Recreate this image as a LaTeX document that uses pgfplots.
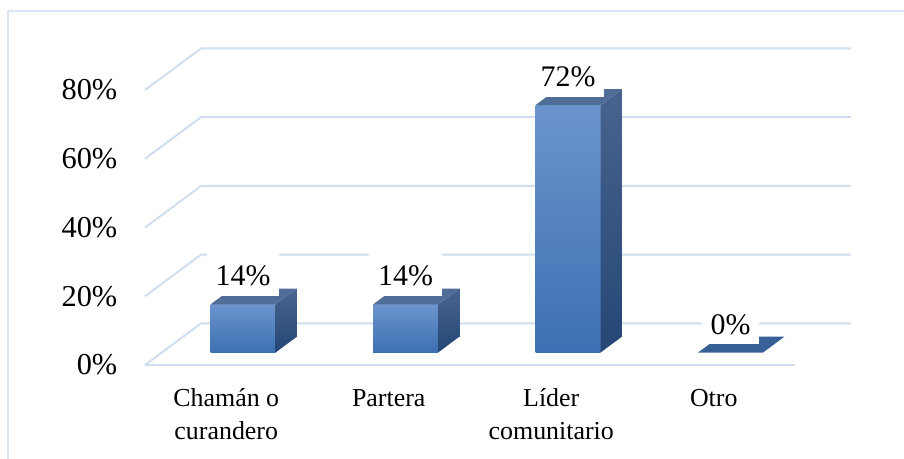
\documentclass[border=0pt]{standalone}
\usepackage{fontspec}
\setmainfont{Liberation Serif}
\usepackage{pgfplots}
\usepackage{pgfplotstable}
\pgfplotsset{compat=1.18}

\definecolor{gridc}{RGB}{208,222,240}
\definecolor{framec}{RGB}{218,229,245}
\definecolor{fronttop}{RGB}{108,148,204}
\definecolor{frontbot}{RGB}{60,112,178}
\definecolor{sidetop}{RGB}{72,99,142}
\definecolor{sidebot}{RGB}{37,71,118}
\definecolor{topc}{RGB}{80,109,151}
\definecolor{flatc}{RGB}{56,95,150}

\tikzset{
  gridline/.style={gridc, line width=2bp},
  frontface/.style={draw=none, top color=fronttop, bottom color=frontbot},
  sideface/.style={draw=none, top color=sidetop, bottom color=sidebot},
  topface/.style={draw=none, fill=topc},
  flatface/.style={draw=none, fill=flatc},
  datalabel/.style={fill=white, anchor=south, yshift=8bp, inner xsep=9bp, inner ysep=0pt,
    text height=33.7bp, text depth=10.3bp, font=\fontsize{30}{36}\selectfont},
}

% share of answers per category (%)
\pgfplotstableread{
cat v
0 14
1 14
2 72
3 0
}\datatable

\begin{document}
\begin{tikzpicture}
\begin{axis}[
  name=ax,
  x=162.5bp, y=3.4375bp,
  xmin=-0.5, xmax=3.845, ymin=0, ymax=92.1,
  clip=false,
  axis line style={draw=none},
  major tick length=0pt,
  xtick={0,1,2,3},
  xticklabels={{\strut Chamán o\\curandero},{\strut Partera},{\strut Líder\\comunitario},{\strut Otro}},
  xticklabel style={align=center, anchor=north, inner sep=0pt, yshift=-19bp,
    font=\fontsize{26}{32.5}\selectfont},
  ytick={0,20,40,60,80},
  yticklabels={0\%,20\%,40\%,60\%,80\%},
  yticklabel style={anchor=east, inner sep=0pt, xshift=-27.5bp,
    font=\fontsize{30.5}{36}\selectfont},
]
% walls: left wall diagonals and back wall lines
\addplot[gridline] coordinates {(-0.5,0) (-0.155,12.1) (3.845,12.1)};
\addplot[gridline] coordinates {(-0.5,20) (-0.155,32.1) (3.845,32.1)};
\addplot[gridline] coordinates {(-0.5,40) (-0.155,52.1) (3.845,52.1)};
\addplot[gridline] coordinates {(-0.5,60) (-0.155,72.1) (3.845,72.1)};
\addplot[gridline] coordinates {(-0.5,80) (-0.155,92.1) (3.845,92.1)};
% floor front edge
\addplot[gridline] coordinates {(-0.5,0) (3.5,0)};

% 3d bars
\pgfplotsforeachungrouped \i in {0,...,3}{%
  \pgfplotstablegetelem{\i}{v}\of\datatable
  \let\v\pgfplotsretval
  \pgfmathsetmacro\xc{\i+0.1035}
  \pgfmathsetmacro\xl{\xc-0.2}
  \pgfmathsetmacro\xr{\xc+0.2}
  \pgfmathsetmacro\xlb{\xl+0.1311}
  \pgfmathsetmacro\xrb{\xr+0.1311}
  \pgfmathsetmacro\yb{3.63}
  \pgfmathsetmacro\ybb{3.63+4.6}
  \pgfmathsetmacro\yt{3.63+\v}
  \pgfmathsetmacro\ytb{3.63+4.6+\v}
  \ifdim\v pt>0pt
    \edef\tmp{%
      \noexpand\addplot[frontface] coordinates {(\xl,\yb) (\xr,\yb) (\xr,\yt) (\xl,\yt)} -- cycle;
      \noexpand\addplot[sideface] coordinates {(\xr,\yb) (\xrb,\ybb) (\xrb,\ytb) (\xr,\yt)} -- cycle;
      \noexpand\addplot[topface] coordinates {(\xl,\yt) (\xr,\yt) (\xrb,\ytb) (\xlb,\ytb)} -- cycle;
    }%
  \else
    \edef\tmp{%
      \noexpand\addplot[flatface] coordinates {(\xl,\yt) (\xr,\yt) (\xrb,\ytb) (\xlb,\ytb)} -- cycle;
    }%
  \fi
  \tmp
  \edef\tmp{\noexpand\node[datalabel] at (axis cs:\xc,\yt) {\v\noexpand\%};}%
  \tmp
}
\end{axis}

\draw[framec, line width=2.5bp] ([shift={(-137bp,-94bp)}]ax.south west) -- ++(0,448bp) -- ++(896bp,0);
\pgfresetboundingbox
\path ([shift={(-145bp,-94bp)}]ax.south west) rectangle ++(904bp,459bp);
\end{tikzpicture}
\end{document}
